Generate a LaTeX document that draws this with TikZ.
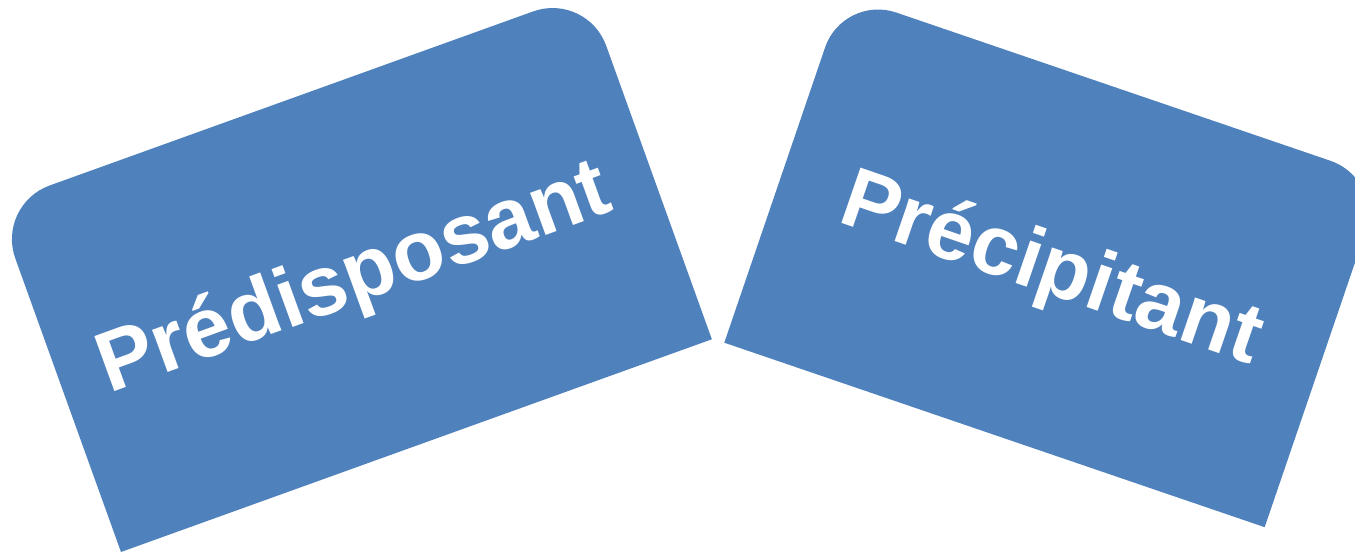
\documentclass[tikz,border=0pt]{standalone}
\usepackage{fontspec}
\setmainfont{Liberation Sans}
\definecolor{cardblue}{RGB}{79,129,189}
\tikzset{
  card/.style={fill=cardblue, draw=none},
  cardtext/.style={text=white, font=\fontsize{85}{92}\selectfont\bfseries, inner sep=0pt, anchor=base}
}
\begin{document}
\begin{tikzpicture}[x=1pt,y=1pt]
\useasboundingbox (0,0) rectangle (1355,553);
\clip (0,0) rectangle (1355,553);
% left card
\begin{scope}[shift={(121,1)}, rotate=19.8]
  \fill[card] (0,0) -- (628,0) -- (628,312) arc[start angle=0,end angle=90,radius=57]
    -- (57,369) arc[start angle=90,end angle=180,radius=57] -- cycle;
\end{scope}
% right card
\begin{scope}[shift={(724.3,210.3)}, rotate=-18.85]
  \fill[card] (0,0) -- (571,0) -- (571,312) arc[start angle=0,end angle=90,radius=56]
    -- (56,368) arc[start angle=90,end angle=180,radius=56] -- cycle;
\end{scope}
\node[cardtext, rotate=20] (pred) at (362.5,251.3) {Prédisposant};
\node[cardtext, rotate=-19] (prec) at (1043.7,260.2) {Précipitant};
\end{tikzpicture}
\end{document}
